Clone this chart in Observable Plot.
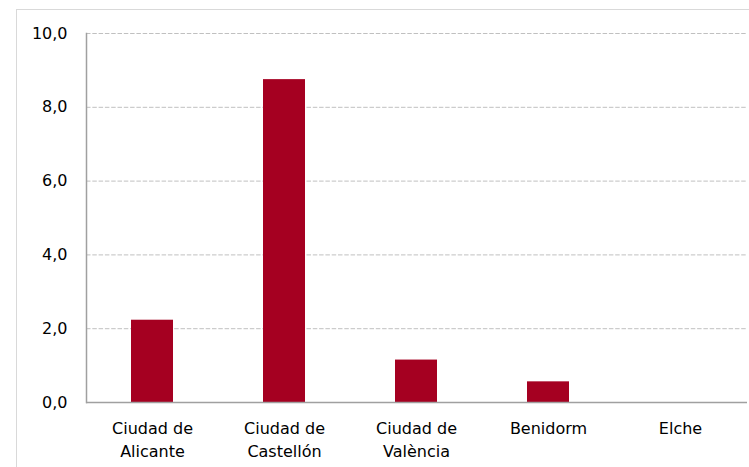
<!DOCTYPE html>
<html>
<head>
<meta charset="utf-8">
<script src="https://cdn.jsdelivr.net/npm/d3@7"></script>
<script src="https://cdn.jsdelivr.net/npm/@observablehq/plot@0.6"></script>
<style>
  body { margin: 0; background: #fff; }
  #wrap { position: relative; width: 749px; height: 467px; overflow: hidden; }
  #border { position: absolute; left: 16px; top: 9px; width: 760px; height: 480px; border: 1px solid #d9d9d9; box-sizing: border-box; pointer-events: none; }
</style>
</head>
<body>
<div id="wrap"><div id="border"></div></div>
<script>
const categories = ["Ciudad de\nAlicante", "Ciudad de\nCastellón", "Ciudad de\nValència", "Benidorm", "Elche"];
const values = [2.23, 8.75, 1.15, 0.56, 0];
const yTicks = [0, 2, 4, 6, 8, 10];

const data = categories.map((c, i) => ({cat: c, value: values[i]}));

const chart = Plot.plot({
  width: 749,
  height: 467,
  marginLeft: 86,
  marginRight: 2,
  marginTop: 33,
  marginBottom: 65,
  style: {fontFamily: "DejaVu Sans", fontSize: "16px", color: "#000", background: "transparent"},
  x: {domain: categories, paddingInner: 0.68, paddingOuter: 0.34, label: null},
  y: {domain: [0, 10], label: null},
  marks: [
    Plot.ruleY(yTicks.filter(d => d > 0), {stroke: "#c0c0c0", strokeDasharray: "4.5,1.8"}),
    Plot.barY(data, {x: "cat", y: "value", fill: "#a50021"}),
    Plot.ruleY([0], {stroke: "#a0a0a0", strokeWidth: 1.5}),
    Plot.frame({anchor: "left", stroke: "#a0a0a0", strokeWidth: 1.5}),
    Plot.axisY(yTicks, {tickSize: 0, tickPadding: 19, tickFormat: d => d.toFixed(1).replace(".", ",")}),
    Plot.axisX({tickSize: 0, tickPadding: 16, lineHeight: 1.4})
  ]
});
chart.style.position = "absolute";
chart.style.left = "0";
chart.style.top = "0";
const wrap = document.getElementById("wrap");
wrap.insertBefore(chart, wrap.firstChild);
</script>
</body>
</html>
